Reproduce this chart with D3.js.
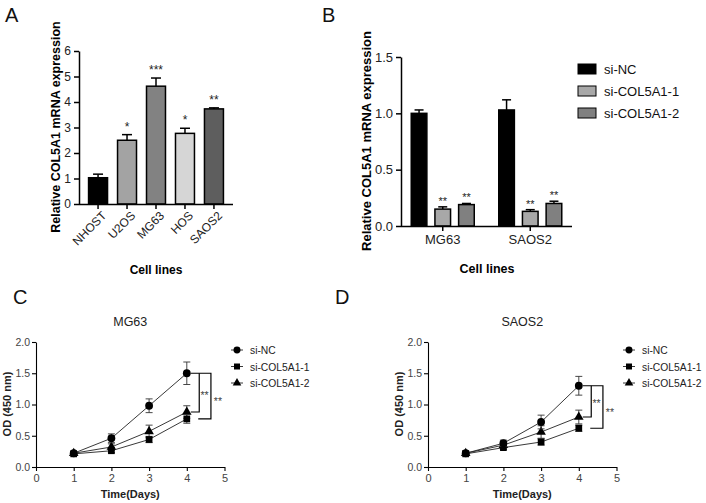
<!DOCTYPE html>
<html>
<head>
<meta charset="utf-8">
<script src="https://cdn.jsdelivr.net/npm/d3@7"></script>
<style>
  body { margin: 0; background: #fff; }
  svg { font-family: "Liberation Sans", Arial, sans-serif; }
</style>
</head>
<body>
<svg id="fig" width="706" height="503"></svg>
<script>
// Panel A: COL5A1 in cell lines
var cellLines = ["NHOST", "U2OS", "MG63", "HOS", "SAOS2"],
    cellMeans = [1.03, 2.5, 4.62, 2.77, 3.73],
    cellErrs = [0.14, 0.22, 0.32, 0.2, 0.04],
    cellStars = ["", "*", "***", "*", "**"],
    cellFills = ["#000000", "#a3a3a3", "#828282", "#d6d6d6", "#5e5e5e"];

// Panel B: knockdown
var groups = ["MG63", "SAOS2"],
    siSeries = ["si-NC", "si-COL5A1-1", "si-COL5A1-2"],
    siFills = ["#000000", "#a8a8a8", "#808080"],
    knockMG63 = [1.0, 0.15, 0.19],
    knockMG63Err = [0.03, 0.02, 0.01],
    knockSAOS2 = [1.03, 0.13, 0.2],
    knockSAOS2Err = [0.09, 0.015, 0.02],
    knockStars = ["", "**", "**"];

// Panels C, D: CCK-8 growth
var days = [1, 2, 3, 4],
    mg63NC = [0.22, 0.46, 0.98, 1.5],
    mg63NCErr = [0.03, 0.07, 0.11, 0.18],
    mg63Si1 = [0.21, 0.26, 0.44, 0.77],
    mg63Si1Err = [0.02, 0.03, 0.05, 0.07],
    mg63Si2 = [0.22, 0.32, 0.57, 0.88],
    mg63Si2Err = [0.03, 0.05, 0.1, 0.1],
    saosNC = [0.22, 0.38, 0.72, 1.3],
    saosNCErr = [0.04, 0.05, 0.11, 0.15],
    saosSi1 = [0.21, 0.31, 0.4, 0.62],
    saosSi1Err = [0.02, 0.03, 0.05, 0.05],
    saosSi2 = [0.22, 0.35, 0.56, 0.8],
    saosSi2Err = [0.03, 0.05, 0.1, 0.11];

var svg = d3.select("#fig");

function panelLetter(t, x, y) {
  svg.append("text").attr("x", x).attr("y", y)
    .attr("font-size", 20).attr("fill", "#111").text(t);
}

function styleAxis(g, size) {
  g.selectAll("path, line").attr("stroke", "#000").attr("stroke-width", 1.5);
  g.selectAll("text").attr("font-size", size).attr("fill", "#222")
    .attr("font-family", "Liberation Sans, Arial, sans-serif");
}

/* ---------- A ---------- */
function drawA() {
  var x = d3.scaleBand().domain(cellLines).range([79, 233])
      .paddingInner(0.345).paddingOuter(0.33);
  var y = d3.scaleLinear().domain([0, 6]).range([204, 51]);
  var g = svg.append("g");

  g.selectAll("rect").data(cellLines).enter().append("rect")
    .attr("x", function(d) { return x(d); })
    .attr("y", function(d, i) { return y(cellMeans[i]); })
    .attr("width", x.bandwidth())
    .attr("height", function(d, i) { return y(0) - y(cellMeans[i]); })
    .attr("fill", function(d, i) { return cellFills[i]; })
    .attr("stroke", "#000").attr("stroke-width", 1.5);

  cellLines.forEach(function(d, i) {
    var cx = x(d) + x.bandwidth() / 2, top = y(cellMeans[i] + cellErrs[i]);
    g.append("line").attr("x1", cx).attr("x2", cx)
      .attr("y1", y(cellMeans[i])).attr("y2", top)
      .attr("stroke", "#000").attr("stroke-width", 1.5);
    g.append("line").attr("x1", cx - 5).attr("x2", cx + 5)
      .attr("y1", top).attr("y2", top)
      .attr("stroke", "#000").attr("stroke-width", 1.5);
    g.append("text").attr("x", cx).attr("y", top - 4)
      .attr("text-anchor", "middle").attr("font-size", 12).attr("fill", "#222")
      .text(cellStars[i]);
  });

  var ya = g.append("g").attr("transform", "translate(79,0)")
    .call(d3.axisLeft(y).ticks(6).tickSize(5).tickPadding(3).tickSizeOuter(0));
  styleAxis(ya, 12);
  var xa = g.append("g").attr("transform", "translate(0,204)")
    .call(d3.axisBottom(x).tickSize(5).tickSizeOuter(0));
  styleAxis(xa, 12);
  xa.select(".domain").attr("d", "M79,0.5H233");
  xa.selectAll("text")
    .attr("text-anchor", "end")
    .attr("transform", "rotate(-45)")
    .attr("dx", "-0.2em").attr("dy", "0.6em");

  g.append("text").attr("x", 156).attr("y", 274).attr("text-anchor", "middle")
    .attr("font-size", 12).attr("font-weight", "bold").text("Cell lines");
  g.append("text").attr("transform", "translate(60,127) rotate(-90)")
    .attr("text-anchor", "middle").attr("font-size", 12.5).attr("font-weight", "bold")
    .text("Relative COL5A1 mRNA expression");
}

/* ---------- B ---------- */
function drawB() {
  var x0 = d3.scaleBand().domain(groups).range([401, 572])
      .paddingInner(0.28).paddingOuter(0.117);
  var x1 = d3.scaleBand().domain(siSeries).range([0, x0.bandwidth()])
      .paddingInner(0.34).paddingOuter(0);
  var y = d3.scaleLinear().domain([0, 1.5]).range([226, 57]);
  var g = svg.append("g");
  var vals = {MG63: [knockMG63, knockMG63Err], SAOS2: [knockSAOS2, knockSAOS2Err]};

  groups.forEach(function(grp) {
    var m = vals[grp][0], e = vals[grp][1];
    siSeries.forEach(function(s, i) {
      var bx = x0(grp) + x1(s), cx = bx + x1.bandwidth() / 2;
      var top = y(m[i] + e[i]);
      g.append("line").attr("x1", cx).attr("x2", cx)
        .attr("y1", y(m[i])).attr("y2", top)
        .attr("stroke", "#000").attr("stroke-width", 1.5);
      g.append("line").attr("x1", cx - 4.5).attr("x2", cx + 4.5)
        .attr("y1", top).attr("y2", top)
        .attr("stroke", "#000").attr("stroke-width", 1.5);
      g.append("rect").attr("x", bx).attr("y", y(m[i]))
        .attr("width", x1.bandwidth()).attr("height", y(0) - y(m[i]))
        .attr("fill", siFills[i]).attr("stroke", "#000").attr("stroke-width", 1.5);
      g.append("text").attr("x", cx).attr("y", top - 2)
        .attr("text-anchor", "middle").attr("font-size", 11).attr("fill", "#222")
        .text(knockStars[i]);
    });
  });

  var ya = g.append("g").attr("transform", "translate(401,0)")
    .call(d3.axisLeft(y).tickValues([0, 0.5, 1, 1.5]).tickFormat(d3.format(".1f"))
      .tickSize(5).tickPadding(3).tickSizeOuter(0));
  styleAxis(ya, 13);
  var xa = g.append("g").attr("transform", "translate(0,226)")
    .call(d3.axisBottom(x0).tickSize(5).tickPadding(4).tickSizeOuter(0));
  styleAxis(xa, 13);
  xa.select(".domain").attr("d", "M401,0.5H572");

  g.append("text").attr("x", 487).attr("y", 273).attr("text-anchor", "middle")
    .attr("font-size", 12.5).attr("font-weight", "bold").text("Cell lines");
  g.append("text").attr("transform", "translate(371,141) rotate(-90)")
    .attr("text-anchor", "middle").attr("font-size", 13).attr("font-weight", "bold")
    .text("Relative COL5A1 mRNA expression");

  var lg = g.append("g").attr("transform", "translate(578,69)");
  siSeries.forEach(function(s, i) {
    lg.append("rect").attr("x", 0).attr("y", i * 22 - 5)
      .attr("width", 18).attr("height", 10)
      .attr("fill", siFills[i]).attr("stroke", "#000").attr("stroke-width", 1);
    lg.append("text").attr("x", 26).attr("y", i * 22 + 4.5)
      .attr("font-size", 13).attr("fill", "#111").text(s);
  });
}

/* ---------- C, D ---------- */
var symbols = [d3.symbolCircle, d3.symbolSquare, d3.symbolTriangle];
var symSizes = [48, 45, 40];

function drawGrowth(x0, title, series, errs) {
  var x = d3.scaleLinear().domain([0, 5]).range([x0, x0 + 188.5]);
  var y = d3.scaleLinear().domain([0, 2]).range([467, 342]);
  var g = svg.append("g");
  var line = d3.line().x(function(d, i) { return x(days[i]); }).y(function(d) { return y(d); });

  // draw in back-to-front order: triangle, square, circle
  [2, 1, 0].forEach(function(k) {
    g.append("path").attr("d", line(series[k])).attr("fill", "none")
      .attr("stroke", "#222").attr("stroke-width", 0.9);
    series[k].forEach(function(v, i) {
      var cx = x(days[i]), lo = y(v - errs[k][i]), hi = y(v + errs[k][i]);
      g.append("line").attr("x1", cx).attr("x2", cx).attr("y1", lo).attr("y2", hi)
        .attr("stroke", "#333").attr("stroke-width", 0.9);
      [lo, hi].forEach(function(yy) {
        g.append("line").attr("x1", cx - 3.5).attr("x2", cx + 3.5).attr("y1", yy).attr("y2", yy)
          .attr("stroke", "#333").attr("stroke-width", 0.9);
      });
      g.append("path").attr("d", d3.symbol().type(symbols[k]).size(symSizes[k])())
        .attr("transform", "translate(" + cx + "," + y(v) + ")").attr("fill", "#000");
    });
  });

  // significance brackets
  var xd = x(4) + 4, xb1 = x(4.33), xb2 = x(4.64);
  var yTop = y(series[0][3]), yMid = y(series[2][3]), yLow = y(series[1][3]);
  g.append("path").attr("d", "M" + xd + "," + yTop + "H" + xb2 + "V" + yLow + "H" + (xb1 - 1))
    .attr("fill", "none").attr("stroke", "#000").attr("stroke-width", 1.2);
  g.append("path").attr("d", "M" + xb1 + "," + yTop + "V" + yMid + "H" + xd)
    .attr("fill", "none").attr("stroke", "#000").attr("stroke-width", 1.2);
  g.append("text").attr("x", (xb1 + xb2) / 2 - 0.5).attr("y", (yTop + yMid) / 2 + 6)
    .attr("text-anchor", "middle").attr("font-size", 10.5).attr("fill", "#444").text("**");
  g.append("text").attr("x", xb2 + 7).attr("y", (yTop + yLow) / 2 + 9)
    .attr("text-anchor", "middle").attr("font-size", 10.5).attr("fill", "#444").text("**");

  var ya = g.append("g").attr("transform", "translate(" + x0 + ",0)")
    .call(d3.axisLeft(y).tickValues([0, 0.5, 1, 1.5, 2]).tickFormat(d3.format(".1f"))
      .tickSize(4).tickPadding(2).tickSizeOuter(0));
  styleAxis(ya, 10.5);
  ya.selectAll("path, line").attr("stroke-width", 1.1);
  ya.selectAll("text").attr("fill", "#444");
  var xa = g.append("g").attr("transform", "translate(0,467)")
    .call(d3.axisBottom(x).ticks(5).tickSize(4).tickPadding(3).tickSizeOuter(0));
  styleAxis(xa, 11);
  xa.selectAll("path, line").attr("stroke-width", 1.1);
  xa.selectAll("text").attr("fill", "#444");

  g.append("text").attr("x", x(2.5)).attr("y", 326).attr("text-anchor", "middle")
    .attr("font-size", 12.5).attr("fill", "#222").text(title);
  g.append("text").attr("x", x(2.5)).attr("y", 498).attr("text-anchor", "middle")
    .attr("font-size", 11).attr("font-weight", "bold").attr("fill", "#222").text("Time(Days)");
  g.append("text").attr("transform", "translate(" + (x0 - 25) + ",404) rotate(-90)")
    .attr("text-anchor", "middle").attr("font-size", 11).attr("font-weight", "bold")
    .attr("fill", "#222").text("OD (450 nm)");

  var lg = g.append("g").attr("transform", "translate(" + (x0 + 201) + ",350)");
  siSeries.forEach(function(s, k) {
    var ly = k * 16.5;
    lg.append("line").attr("x1", -6).attr("x2", 6).attr("y1", ly).attr("y2", ly)
      .attr("stroke", "#222").attr("stroke-width", 0.9);
    lg.append("path").attr("d", d3.symbol().type(symbols[k]).size(symSizes[k] * 0.8)())
      .attr("transform", "translate(0," + ly + ")").attr("fill", "#000");
    lg.append("text").attr("x", 13).attr("y", ly + 4)
      .attr("font-size", 10.3).attr("fill", "#222").text(s);
  });
}

drawA();
drawB();
drawGrowth(36, "MG63", [mg63NC, mg63Si1, mg63Si2], [mg63NCErr, mg63Si1Err, mg63Si2Err]);
drawGrowth(428, "SAOS2", [saosNC, saosSi1, saosSi2], [saosNCErr, saosSi1Err, saosSi2Err]);

panelLetter("A", 5, 22);
panelLetter("B", 322, 22);
panelLetter("C", 13, 304);
panelLetter("D", 335, 304);
</script>
</body>
</html>
